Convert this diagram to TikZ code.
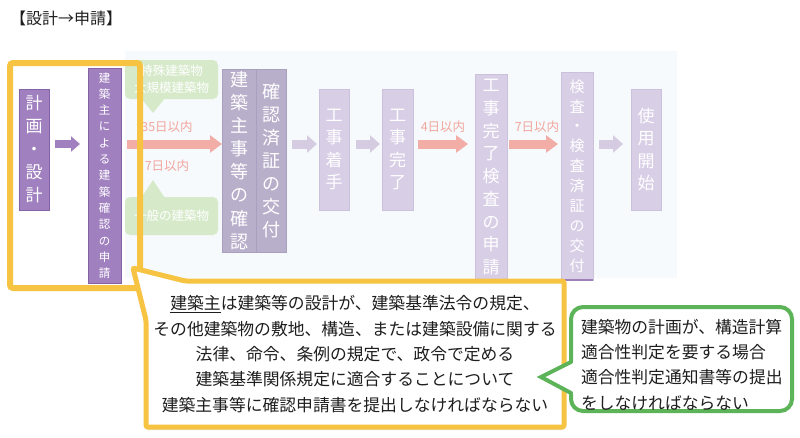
\documentclass[tikz,border=0pt]{standalone}
\usepackage{fontspec}
\setmainfont{Noto Sans CJK JP}
\usetikzlibrary{arrows.meta,shadows}
\definecolor{bgc}{HTML}{F6FAFC}
\definecolor{pstrong}{HTML}{A180C0}
\definecolor{pstrongb}{HTML}{8462A6}
\definecolor{pmid}{HTML}{B8AFCA}
\definecolor{pmidb}{HTML}{A99FBF}
\definecolor{ppale}{HTML}{D8CEE6}
\definecolor{ppaleb}{HTML}{CCC1DC}
\definecolor{parw}{HTML}{D5CCE1}
\definecolor{pinka}{HTML}{F2ADA6}
\definecolor{pinkt}{HTML}{F2A59D}
\definecolor{gpale}{HTML}{D6EACA}
\definecolor{yel}{HTML}{F6C342}
\definecolor{grn}{HTML}{5DB458}
\definecolor{txt}{HTML}{1E1E1E}
\begin{document}
\begin{tikzpicture}[x=1pt,y=-1pt,
  every node/.style={inner sep=0pt,outer sep=0pt},
  strongbox/.style={fill=pstrong,draw=pstrongb,line width=0.8pt,text=white,align=center},
  midbox/.style={fill=pmid,draw=pmidb,line width=0.8pt,text=white,align=center},
  palebox/.style={fill=ppale,draw=ppaleb,line width=0.8pt,text=white,align=center},
  gcall/.style={fill=gpale,rounded corners=5pt,text=white,align=center,font=\fontsize{12.5}{17}\selectfont},
  daylabel/.style={text=pinkt,font=\fontsize{12.5}{15}\selectfont},
  parrow/.style={draw=pstrong,line width=8pt,-{Triangle[length=9pt,width=15pt]}},
  pinkarrow/.style={draw=pinka,line width=9pt,-{Triangle[length=12pt,width=17pt]}},
  palearrow/.style={draw=parw,line width=9pt,-{Triangle[length=10pt,width=17pt]}},
  bodytext/.style={text=txt,font=\fontsize{16.8}{25.3}\selectfont}
]
\useasboundingbox (0,0) rectangle (800,437);
\fill[white] (0,0) rectangle (800,437);
\fill[bgc] (125,51) rectangle (677,278);

% title
\node[anchor=west,text=txt,font=\fontsize{16}{19}\selectfont] (title) at (10,18) {【設計→申請】};

% pale green callouts
\node[gcall,minimum width=93pt,minimum height=39pt] (special) at (171.5,79.5) {特殊建築物\\大規模建築物};
\fill[gpale] (141,98) -- (153,113) -- (165,98) -- cycle;
\node[gcall,minimum width=93pt,minimum height=38pt] (general) at (171.5,216) {一般の建築物};
\fill[gpale] (141,198) -- (153,180) -- (165,198) -- cycle;

% boxes
\node[strongbox,minimum width=30pt,minimum height=121pt,font=\fontsize{17}{23}\selectfont] (plan) at (34,149.5) {計\\画\\・\\設\\計};
\node[strongbox,minimum width=33pt,minimum height=215pt,font=\fontsize{11.5}{16.3}\selectfont] (apply) at (104.5,175.5) {建\\築\\主\\に\\よ\\る\\建\\築\\確\\認\\の\\申\\請};
\node[midbox,minimum width=34pt,minimum height=183pt,font=\fontsize{18}{23.1}\selectfont] (check) at (239,160.5) {建\\築\\主\\事\\等\\の\\確\\認};
\node[midbox,minimum width=30pt,minimum height=183pt,font=\fontsize{18}{23.1}\selectfont] (issue) at (271,160.5) {確\\認\\済\\証\\の\\交\\付};
\node[palebox,minimum width=30pt,minimum height=121pt,font=\fontsize{17}{22.5}\selectfont] (start) at (334,149.5) {工\\事\\着\\手};
\node[palebox,minimum width=31pt,minimum height=121pt,font=\fontsize{17}{22.5}\selectfont] (done) at (397.5,149.5) {工\\事\\完\\了};
\node[palebox,minimum width=32pt,minimum height=206pt,font=\fontsize{17}{22.75}\selectfont] (inspreq) at (491,177) {工\\事\\完\\了\\検\\査\\の\\申\\請};
\node[palebox,minimum width=32pt,minimum height=208pt,font=\fontsize{15}{19.9}\selectfont] (insp) at (577,176) {検\\査\\・\\検\\査\\済\\証\\の\\交\\付};
\draw[draw=pstrongb!80,line width=1.5pt] (insp.south west) -- (insp.south east);
\node[palebox,minimum width=30pt,minimum height=121pt,font=\fontsize{17}{22.5}\selectfont] (use) at (646,149.5) {使\\用\\開\\始};

% arrows
\coordinate (row) at (0,144);
\draw[parrow,shorten <=6pt,shorten >=8pt] (plan.east |- row) -- (apply.west |- row);
\draw[pinkarrow,shorten <=6pt] (apply.east |- row) -- (check.west |- row);
\draw[palearrow,shorten <=6pt,shorten >=2pt] (issue.east |- row) -- (start.west |- row);
\draw[palearrow,shorten <=7pt,shorten >=2pt] (start.east |- row) -- (done.west |- row);
\draw[pinkarrow,shorten <=5pt,shorten >=7pt] (done.east |- row) -- (inspreq.west |- row);
\draw[pinkarrow,shorten <=2pt,shorten >=3pt] (inspreq.east |- row) -- (insp.west |- row);
\draw[palearrow,shorten <=6pt,shorten >=8pt] (insp.east |- row) -- (use.west |- row);

% day labels
\node[daylabel] (d35) at (167,127) {35日以内};
\node[daylabel] (d7a) at (167,166) {7日以内};
\node[daylabel] (d4) at (443,127) {4日以内};
\node[daylabel] (d7b) at (537,127) {7日以内};

% focus frame
\node[draw=yel,line width=6pt,rounded corners=3pt,minimum width=130pt,minimum height=225pt] (focus) at (75,175.5) {};

% yellow callout
\draw[draw=yel,line width=5pt,fill=white,rounded corners=2pt,
      drop shadow={shadow xshift=0pt,shadow yshift=-3pt,opacity=0.2}]
  (185,281) -- (564,281) -- (564,427) -- (146,427) -- (146,320) -- (133,268) -- cycle;
\node[bodytext,align=center] (note) at (355,354)
 {\underline{建築主}は建築等の設計が、建築基準法令の規定、\\
  その他建築物の敷地、構造、または建築設備に関する\\
  法律、命令、条例の規定で、政令で定める\\
  建築基準関係規定に適合することについて\\
  建築主事等に確認申請書を提出しなければならない};

% green callout
\node[draw=grn,fill=white,line width=4pt,rounded corners=12pt,minimum width=221pt,minimum height=104pt] (law) at (681.5,359) {};
\fill[white] (576,361) -- (571,361) -- (541,377) -- (571,394) -- (576,394) -- cycle;
\draw[draw=grn,line width=4pt,line join=miter,line cap=round] (571,362) -- (541,377) -- (571,393);
\node[bodytext,align=left,anchor=west] (lawtext) at (581,364.5)
 {建築物の計画が、構造計算\\
  適合性判定を要する場合\\
  適合性判定通知書等の提出\\
  をしなければならない};
\end{tikzpicture}
\end{document}
